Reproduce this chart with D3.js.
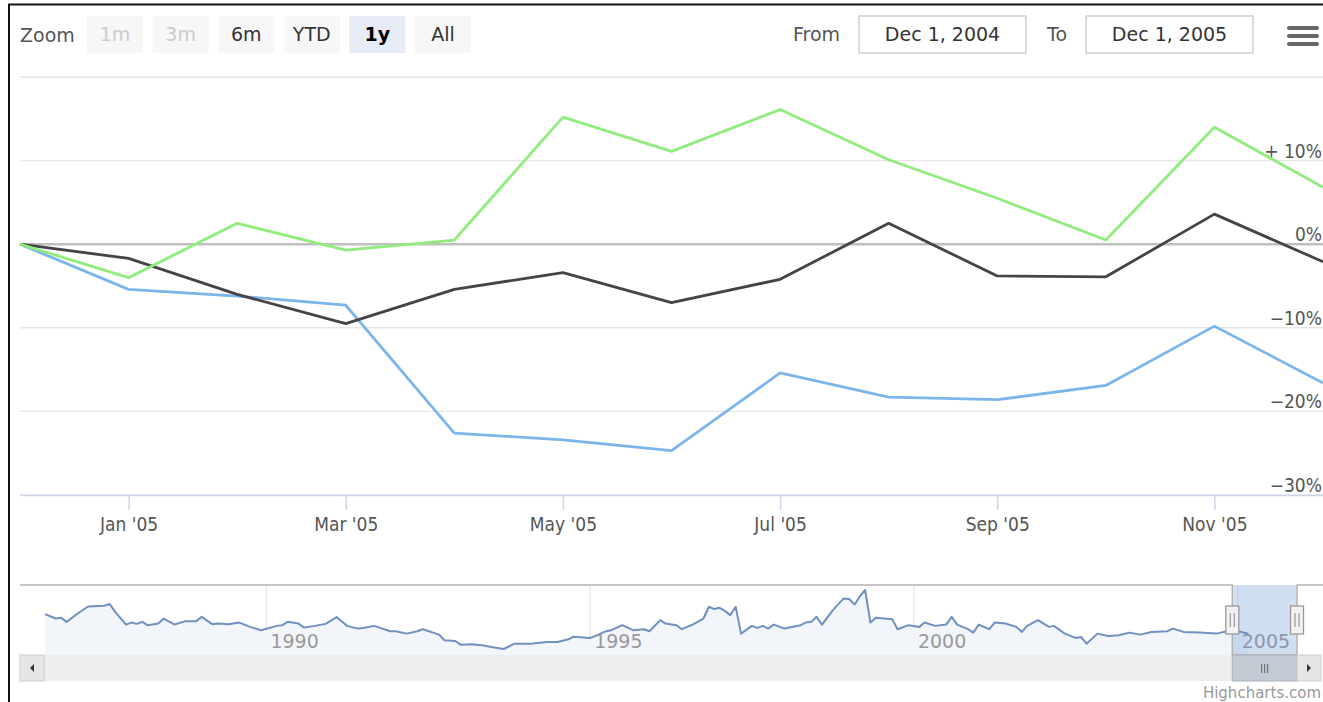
<!DOCTYPE html>
<html>
<head>
<meta charset="utf-8">
<script src="https://cdn.jsdelivr.net/npm/d3@7"></script>
<style>
  body { margin: 0; background: #fff; }
  svg { display: block; font-family: "DejaVu Sans", Verdana, sans-serif; }
</style>
</head>
<body>
<script>
// months in the zoomed window (values are % change from the first point)
const months = ["2004-12", "2005-01", "2005-02", "2005-03", "2005-04", "2005-05", "2005-06",
  "2005-07", "2005-08", "2005-09", "2005-10", "2005-11", "2005-12"];
const blueValues = [0, -5.4, -6.2, -7.3, -22.6, -23.4, -24.7, -15.4, -18.3, -18.6, -16.9, -9.8, -16.6];
const blackValues = [0, -1.7, -6.0, -9.5, -5.4, -3.4, -7.0, -4.2, 2.5, -3.8, -3.9, 3.6, -2.1];
const greenValues = [0, -4.0, 2.5, -0.7, 0.5, 15.2, 11.1, 16.1, 10.1, 5.5, 0.5, 14.0, 6.8];
const yTicks = [-30, -20, -10, 0, 10, 20];
const yLabelTicks = [-30, -20, -10, 0, 10];

const rangeButtons = ["1m", "3m", "6m", "YTD", "1y", "All"];
const disabledButtons = ["1m", "3m"];
const selectedButton = "1y";
const fromLabel = "Dec 1, 2004";
const toLabel = "Dec 1, 2005";

// navigator series (whole history)
const navDates = ["1986-08", "1986-10", "1986-11", "1986-12", "1987-02", "1987-04", "1987-07", "1987-08",
  "1987-09", "1987-11", "1987-12", "1988-01", "1988-02", "1988-03", "1988-05", "1988-06", "1988-08",
  "1988-10", "1988-12", "1989-01", "1989-03", "1989-04", "1989-06", "1989-08", "1989-10", "1989-12",
  "1990-03", "1990-04", "1990-05", "1990-07", "1990-08", "1990-10", "1990-12", "1991-02", "1991-03",
  "1991-04", "1991-06", "1991-07", "1991-09", "1991-12", "1992-01", "1992-03", "1992-05", "1992-06",
  "1992-09", "1992-10", "1992-12", "1993-01", "1993-03", "1993-05", "1993-07", "1993-09", "1993-11",
  "1994-02", "1994-05", "1994-07", "1994-09", "1994-10", "1995-01", "1995-02", "1995-04", "1995-05",
  "1995-07", "1995-09", "1995-11", "1995-12", "1996-02", "1996-03", "1996-05", "1996-06", "1996-08",
  "1996-10", "1996-11", "1996-12", "1997-01", "1997-02", "1997-03", "1997-04", "1997-05", "1997-07",
  "1997-08", "1997-09", "1997-10", "1997-11", "1998-01", "1998-04", "1998-05", "1998-06", "1998-07",
  "1998-08", "1998-10", "1998-12", "1999-01", "1999-02", "1999-03", "1999-04", "1999-05", "1999-06",
  "1999-09", "1999-10", "1999-12", "2000-02", "2000-03", "2000-05", "2000-07", "2000-08", "2000-09",
  "2000-11", "2000-12", "2001-01", "2001-03", "2001-04", "2001-06", "2001-08", "2001-09", "2001-10",
  "2001-12", "2002-02", "2002-03", "2002-05", "2002-07", "2002-08", "2002-09", "2002-11", "2003-01",
  "2003-03", "2003-05", "2003-07", "2003-09", "2003-12", "2004-01", "2004-03", "2004-06", "2004-09",
  "2004-11", "2005-01", "2005-03"];
const navValues = [45.7, 41.3, 42, 38, 46.3, 53.3, 54, 55.7,
  48, 35.3, 37.3, 36, 38, 34.7, 36.3, 41.3, 35.3,
  38.7, 38.7, 43, 35.7, 36.3, 35.7, 37.3, 33, 29.7,
  34, 34.7, 38, 36.3, 32.3, 34, 36, 42.7, 38.7,
  34, 31.3, 32, 34, 28.7, 28.7, 26.3, 28.7, 30.7,
  25.3, 19.7, 19, 15.3, 15.7, 14.7, 12.7, 11, 16.3,
  16.3, 18, 18, 20.7, 23.3, 22, 24, 28.7, 29.7,
  34.7, 29.7, 30.7, 28.7, 39.7, 36.3, 34.7, 30.7, 35.3,
  41.3, 53, 50.7, 52, 48.7, 44.7, 53, 26.3, 34,
  32, 34, 31.3, 35.3, 31.3, 34.7, 37.3, 38, 43,
  35.3, 49.7, 61.3, 60.7, 55.3, 63, 69.7, 37.3, 42,
  40.7, 30.7, 34.7, 33, 37.3, 34, 35.3, 43, 35.3,
  30.7, 27.3, 35.3, 30.7, 37.3, 36.3, 33, 28, 34,
  39.7, 33, 34, 26.3, 22, 23, 16.3, 26.3, 24,
  24.7, 27.3, 25.3, 28, 28.7, 31.3, 28, 27.3, 26.3,
  28.7, 28.7, 26.3];
const navEnd = "2005-12";

const W = 1323, H = 702;
const parse = d3.timeParse("%Y-%m");

const svg = d3.select("body").append("svg").attr("width", W).attr("height", H);

// outer frame (left and top edge visible)
svg.append("path")
  .attr("d", `M9,${H} V4.5 H${W}`)
  .attr("fill", "none")
  .attr("stroke", "#111")
  .attr("stroke-width", 2);

// ---------- range selector ----------
const header = svg.append("g");
header.append("text").attr("x", 20).attr("y", 42)
  .attr("font-size", 19).attr("fill", "#555").text("Zoom");

const btnX = d3.scaleBand().domain(rangeButtons).range([87, 471]).paddingInner(0.145);
const btn = header.selectAll("g.btn").data(rangeButtons).join("g").attr("class", "btn");
btn.append("rect")
  .attr("x", d => btnX(d)).attr("y", 16)
  .attr("width", btnX.bandwidth()).attr("height", 37)
  .attr("fill", d => d === selectedButton ? "#e6ebf5" : "#f7f7f7");
btn.append("text")
  .attr("x", d => btnX(d) + btnX.bandwidth() / 2).attr("y", 41)
  .attr("text-anchor", "middle").attr("font-size", 19)
  .attr("font-weight", d => d === selectedButton ? "bold" : "normal")
  .attr("fill", d => disabledButtons.includes(d) ? "#cccccc" : (d === selectedButton ? "#000" : "#333"))
  .text(d => d);

const inputs = [
  { label: "From", value: fromLabel, lx: 793, bx: 859 },
  { label: "To", value: toLabel, lx: 1047, bx: 1086 }
];
const inp = header.selectAll("g.inp").data(inputs).join("g").attr("class", "inp");
inp.append("text").attr("x", d => d.lx).attr("y", 41)
  .attr("font-size", 19).attr("fill", "#555").text(d => d.label);
inp.append("rect").attr("x", d => d.bx).attr("y", 16)
  .attr("width", 167).attr("height", 37)
  .attr("fill", "#fff").attr("stroke", "#cccccc").attr("stroke-width", 1.4);
inp.append("text").attr("x", d => d.bx + 83.5).attr("y", 41)
  .attr("text-anchor", "middle").attr("font-size", 19).attr("fill", "#333")
  .text(d => d.value);

// menu icon
header.selectAll("line.menu").data([28, 36, 44]).join("line").attr("class", "menu")
  .attr("x1", 1289).attr("x2", 1317).attr("y1", d => d).attr("y2", d => d)
  .attr("stroke", "#666").attr("stroke-width", 4).attr("stroke-linecap", "round");

// ---------- main plot ----------
const plot = { left: 20, right: 1323, top: 77, bottom: 495 };
const x = d3.scalePoint().domain(months).range([plot.left, plot.right]);
const y = d3.scaleLinear().domain([-30, 20]).range([plot.bottom, plot.top]);

svg.append("g").selectAll("line").data(yTicks).join("line")
  .attr("x1", plot.left).attr("x2", plot.right)
  .attr("y1", d => y(d)).attr("y2", d => y(d))
  .attr("stroke", "#e6e6e6").attr("stroke-width", 1.4);

// zero plot line
svg.append("line")
  .attr("x1", plot.left).attr("x2", plot.right)
  .attr("y1", y(0)).attr("y2", y(0))
  .attr("stroke", "#c0c0c0").attr("stroke-width", 2.6);

const xAxis = svg.append("g")
  .attr("transform", `translate(0,${plot.bottom})`)
  .call(d3.axisBottom(x)
    .tickValues(months.filter((d, i) => i % 2 === 1))
    .tickSize(15).tickSizeOuter(0).tickPadding(8)
    .tickFormat(d => d3.timeFormat("%b '%y")(parse(d))));
xAxis.select(".domain").attr("stroke", "#ccd6eb").attr("stroke-width", 1.5);
xAxis.selectAll(".tick line").attr("stroke", "#ccd6eb").attr("stroke-width", 1.5);
xAxis.selectAll(".tick text")
  .attr("font-size", 19).attr("fill", "#555")
  .attr("font-family", "'DejaVu Sans Condensed', 'DejaVu Sans', sans-serif");

svg.append("g").selectAll("text").data(yLabelTicks).join("text")
  .attr("x", plot.right - 1).attr("y", d => y(d) - 3)
  .attr("text-anchor", "end").attr("font-size", 19).attr("fill", "#555")
  .attr("font-family", "'DejaVu Sans Condensed', 'DejaVu Sans', sans-serif")
  .text(d => (d > 0 ? " + " : "") + (d < 0 ? "\u2212" + Math.abs(d) : d) + "%");

const line = d3.line().x((d, i) => x(months[i])).y(d => y(d));
const series = [
  { values: blueValues, color: "#7cb5ec" },
  { values: blackValues, color: "#434348" },
  { values: greenValues, color: "#90ed7d" }
];
svg.append("g").selectAll("path").data(series).join("path")
  .attr("d", d => line(d.values))
  .attr("fill", "none")
  .attr("stroke", d => d.color)
  .attr("stroke-width", 2.8)
  .attr("stroke-linejoin", "round");

// ---------- navigator ----------
const nav = { left: 45, right: 1297, top: 585, bottom: 655 };
const navData = navDates.map((d, i) => ({ date: parse(d), value: navValues[i] }));
const navX = d3.scaleTime().domain([navData[0].date, parse(navEnd)]).range([nav.left, nav.right]);
const navY = d3.scaleLinear().domain(d3.extent(navValues)).range([nav.bottom - 6, nav.top + 5]);

const navTicks = navX.ticks(d3.timeYear.every(5));
svg.append("g").selectAll("line").data(navTicks).join("line")
  .attr("x1", d => navX(d)).attr("x2", d => navX(d))
  .attr("y1", nav.top).attr("y2", nav.bottom)
  .attr("stroke", "#e6e6e6").attr("stroke-width", 1.4);

svg.append("path").datum(navData)
  .attr("d", d3.area().x(d => navX(d.date)).y0(nav.bottom).y1(d => navY(d.value)))
  .attr("fill", "#f2f5fa");
svg.append("path").datum(navData)
  .attr("d", d3.line().x(d => navX(d.date)).y(d => navY(d.value)))
  .attr("fill", "none").attr("stroke", "#7090c0").attr("stroke-width", 2)
  .attr("stroke-linejoin", "round");

svg.append("g").selectAll("text").data(navTicks).join("text")
  .attr("x", d => navX(d) + 4).attr("y", 648)
  .attr("font-size", 19).attr("fill", "#999").text(d => d3.timeFormat("%Y")(d));

// selected range
const selL = navX(parse(months[0]));
const selR = navX(parse(months[months.length - 1]));
svg.append("rect")
  .attr("x", selL).attr("y", nav.top)
  .attr("width", selR - selL).attr("height", nav.bottom - nav.top)
  .attr("fill", "rgba(102,150,215,0.3)");
svg.append("path")
  .attr("d", `M${plot.left},${nav.top} H${selL} V${nav.bottom} H${selR} V${nav.top} H${W}`)
  .attr("fill", "none").attr("stroke", "#b3b3b3").attr("stroke-width", 1.5);

// handles
const handles = svg.selectAll("g.handle").data([selL, selR]).join("g").attr("class", "handle");
handles.append("rect")
  .attr("x", d => d - 6.5).attr("y", 606).attr("width", 13).attr("height", 28)
  .attr("fill", "#f2f2f2").attr("stroke", "#999").attr("stroke-width", 1.3);
handles.selectAll("line").data(d => [d - 2, d + 2]).join("line")
  .attr("x1", d => d).attr("x2", d => d).attr("y1", 613).attr("y2", 627)
  .attr("stroke", "#999").attr("stroke-width", 1.2);

// scrollbar
const sb = { top: 655, bottom: 681 };
svg.append("rect")
  .attr("x", plot.left).attr("y", sb.top).attr("width", 1300).attr("height", sb.bottom - sb.top)
  .attr("fill", "#eeeeee");
svg.append("rect")
  .attr("x", selL).attr("y", sb.top).attr("width", selR - selL).attr("height", sb.bottom - sb.top)
  .attr("fill", "#c2cad3").attr("stroke", "#aab2bb").attr("stroke-width", 1);
svg.selectAll("line.grip").data([-3, 0, 3]).join("line").attr("class", "grip")
  .attr("x1", d => (selL + selR) / 2 + d).attr("x2", d => (selL + selR) / 2 + d)
  .attr("y1", 664).attr("y2", 673)
  .attr("stroke", "#666").attr("stroke-width", 1);
const sbButtons = [{ x: plot.left, dir: -1 }, { x: nav.right, dir: 1 }];
const sbb = svg.selectAll("g.sbb").data(sbButtons).join("g").attr("class", "sbb");
sbb.append("rect")
  .attr("x", d => d.x).attr("y", sb.top).attr("width", 24).attr("height", sb.bottom - sb.top)
  .attr("fill", "#e6e6e6").attr("stroke", "#cccccc").attr("stroke-width", 1);
sbb.append("path")
  .attr("d", d => {
    const cx = d.x + 12, cy = (sb.top + sb.bottom) / 2;
    return `M${cx + 2 * d.dir},${cy} L${cx - 2 * d.dir},${cy - 4} L${cx - 2 * d.dir},${cy + 4} Z`;
  })
  .attr("fill", "#333");

// credit
svg.append("text").attr("x", W - 2).attr("y", 698)
  .attr("text-anchor", "end").attr("font-size", 15).attr("fill", "#999")
  .text("Highcharts.com");
</script>
</body>
</html>
